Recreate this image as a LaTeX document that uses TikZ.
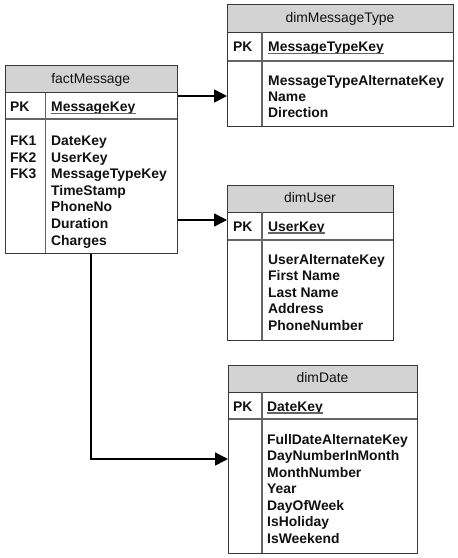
\documentclass[tikz,border=0pt]{standalone}
\usepackage{fontspec}
\setmainfont{Liberation Sans}
\usetikzlibrary{arrows.meta}
\definecolor{bordc}{HTML}{383838}
\definecolor{hdrc}{HTML}{D3D3D3}
\definecolor{divc}{HTML}{656565}
\definecolor{txtc}{HTML}{111111}
\tikzset{
  tbl/.style={draw=bordc, line width=1pt, rectangle, inner sep=0pt, anchor=north west},
  hdr/.style={fill=hdrc},
  sepl/.style={draw=divc, line width=1.3pt},
  ttl/.style={font=\fontsize{13.9}{16.6}\selectfont, anchor=base, inner sep=0pt, text=txtc},
  fld/.style={font=\bfseries\fontsize{13.9}{16.6}\selectfont, anchor=base west, inner sep=0pt, text=txtc},
  ul/.style={draw=divc, line width=1.1pt},
  rel/.style={draw=black, line width=1.6pt, -{Triangle[length=13pt,width=13pt]}},
}
% #1 name, #2 left, #3 top, #4 right, #5 header bottom, #6 pk bottom, #7 bottom, #8 divider x
\newcommand{\ertbl}[8]{%
  \fill[hdr] (#2,#3) rectangle (#4,#5);
  \draw[bordc, line width=1pt] (#2,#5) -- (#4,#5);
  \draw[sepl] (#2,#6) -- (#4,#6);
  \draw[sepl] (#8,#5) -- (#8,#7);
  \node[tbl, minimum width={#4pt-#2pt}, minimum height={#7pt-#3pt}] (#1) at (#2,#3) {};
}
\begin{document}
\begin{tikzpicture}[x=1pt,y=-1pt]
\useasboundingbox (0,0) rectangle (458,558);
\fill[white] (0,0) rectangle (458,558);

% factMessage
\ertbl{fact}{4.5}{65}{177}{92.5}{119}{253}{45.7}
\node[ttl] (fact-t) at (90.75,83.5) {factMessage};
\node[fld] (fact-pkl) at (10,111.5) {PK};
\node[fld] (fact-pk) at (51,111.5) {MessageKey};
\draw[ul] ([yshift=-2pt]fact-pk.base west) -- ([yshift=-2pt]fact-pk.base east);
\foreach \t [count=\i from 0] in {FK1,FK2,FK3}
  \node[fld] (fact-k\i) at (10,145.5+16.6*\i) {\t};
\foreach \t [count=\i from 0] in {DateKey,UserKey,MessageTypeKey,TimeStamp,PhoneNo,Duration,Charges}
  \node[fld] (fact-f\i) at (51,145.5+16.6*\i) {\t};

% dimMessageType
\ertbl{mt}{227}{4}{453}{32}{61}{126}{262}
\node[ttl] (mt-t) at (340,22.5) {dimMessageType};
\node[fld] (mt-pkl) at (233,51.5) {PK};
\node[fld] (mt-pk) at (268,51.5) {MessageTypeKey};
\draw[ul] ([yshift=-2pt]mt-pk.base west) -- ([yshift=-2pt]mt-pk.base east);
\foreach \t [count=\i from 0] in {MessageTypeAlternateKey,Name,Direction}
  \node[fld] (mt-f\i) at (268,85+16.3*\i) {\t};

% dimUser
\ertbl{usr}{227}{185}{393}{212}{240}{340}{262}
\node[ttl] (usr-t) at (310,202) {dimUser};
\node[fld] (usr-pkl) at (233,231) {PK};
\node[fld] (usr-pk) at (268,231) {UserKey};
\draw[ul] ([yshift=-2pt]usr-pk.base west) -- ([yshift=-2pt]usr-pk.base east);
\foreach \t [count=\i from 0] in {UserAlternateKey,First Name,Last Name,Address,PhoneNumber}
  \node[fld] (usr-f\i) at (268,264+16.6*\i) {\t};

% dimDate
\ertbl{dt}{228}{365}{417}{392}{419}{553}{262}
\node[ttl] (dt-t) at (322.5,382) {dimDate};
\node[fld] (dt-pkl) at (233,411) {PK};
\node[fld] (dt-pk) at (267,411) {DateKey};
\draw[ul] ([yshift=-2pt]dt-pk.base west) -- ([yshift=-2pt]dt-pk.base east);
\foreach \t [count=\i from 0] in {FullDateAlternateKey,DayNumberInMonth,MonthNumber,Year,DayOfWeek,IsHoliday,IsWeekend}
  \node[fld] (dt-f\i) at (267,444+16.5*\i) {\t};

% relationships
\coordinate (y1) at (0,96);
\coordinate (y2) at (0,220);
\coordinate (p3) at (91,459);
\draw[rel] (fact.east |- y1) -- (mt.west |- y1);
\draw[rel] (fact.east |- y2) -- (usr.west |- y2);
\draw[rel] (fact.south -| p3) |- (dt.west |- p3);
\end{tikzpicture}
\end{document}
